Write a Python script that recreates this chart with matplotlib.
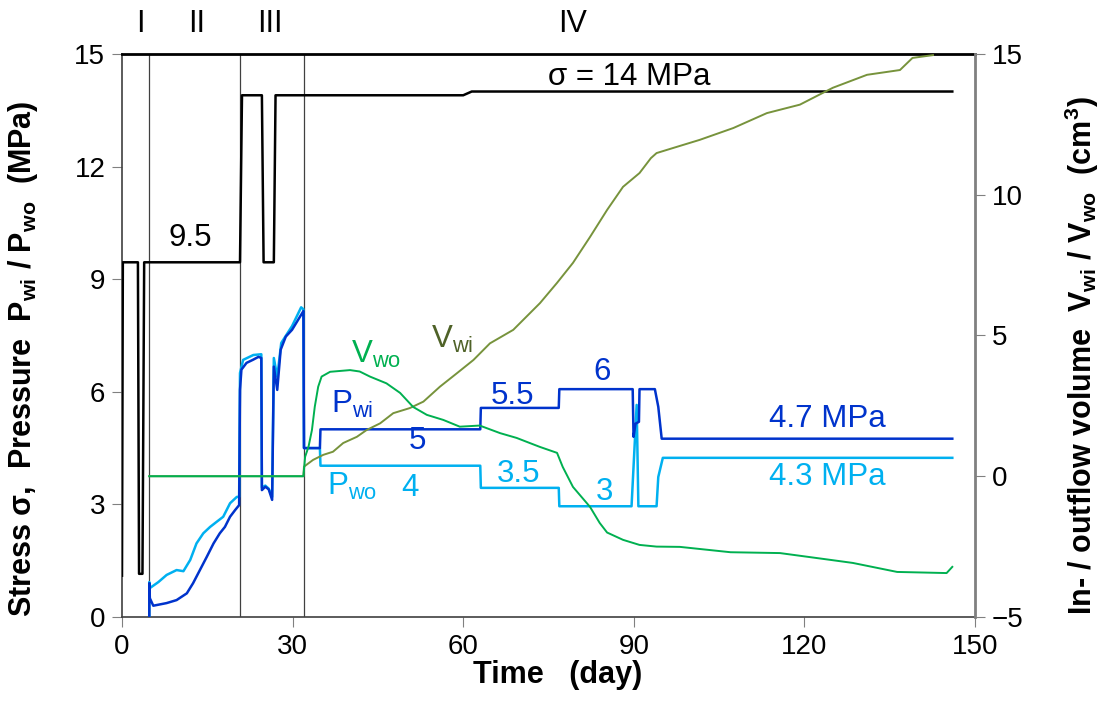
import matplotlib
matplotlib.use('Agg')
import matplotlib.pyplot as plt
from matplotlib import rcParams

rcParams['font.family'] = 'Liberation Sans'
rcParams['mathtext.default'] = 'regular'

# Data (time in days)
# ====================================================== #
phase_bounds = [4.8, 20.75, 32.0]
phase_names = ['I', 'II', 'III', 'IV']
phase_label_x = [3.2, 13.2, 26.0, 79.3]

# confining stress sigma (MPa)
sig_t = [0, 0.15, 2.8, 3.0, 3.6, 3.9, 20.75, 21.1, 24.6, 24.9, 26.7, 27.0, 60.0, 61.5, 146.0]
sig_v = [1.1, 9.45, 9.45, 1.15, 1.15, 9.45, 9.45, 13.9, 13.9, 9.45, 9.45, 13.9, 13.9, 14.0, 14.0]

# inflow pressure P_wi (MPa)
pwi_t = [4.8, 4.8, 4.9, 5.5, 7.85, 9.6, 11.4, 12.5, 13.7, 14.9, 16.1, 17.2, 18.1, 19.0, 19.9, 20.6,
         20.75, 21.0, 21.9, 23.0, 24.0, 24.5, 24.6, 25.2, 25.8, 26.4, 26.7, 27.3, 27.9, 28.8, 29.9,
         30.7, 31.5, 31.9, 32.0, 34.8, 34.9, 63.0, 63.1, 76.8, 76.9, 89.8, 89.95, 90.3, 90.9, 91.0,
         93.7, 94.3, 94.9, 146.0]
pwi_v = [0.0, 0.9, 0.5, 0.3, 0.37, 0.45, 0.63, 0.9, 1.25, 1.6, 1.96, 2.23, 2.4, 2.67, 2.85, 2.98,
         6.05, 6.59, 6.77, 6.85, 6.93, 6.9, 3.38, 3.47, 3.4, 3.12, 6.67, 6.05, 7.12, 7.47, 7.65,
         7.85, 8.05, 8.15, 4.5, 4.5, 5.0, 5.0, 5.57, 5.57, 6.07, 6.07, 4.8, 5.15, 5.2, 6.07,
         6.07, 5.6, 4.75, 4.75]

# outflow pressure P_wo (MPa)
pwo_t = [4.8, 4.8, 4.9, 6.4, 7.85, 9.6, 10.8, 12.0, 13.1, 14.3, 15.5, 16.6, 17.8, 19.0, 20.2, 20.6,
         20.75, 21.3, 23.1, 24.5, 24.6, 25.2, 25.8, 26.4, 26.7, 27.3, 28.0, 29.9, 31.5, 31.9, 32.0,
         34.8, 34.9, 63.0, 63.1, 76.8, 76.9, 89.6, 90.5, 90.8, 94.0, 94.3, 95.1, 146.0]
pwo_v = [0.0, 0.93, 0.77, 0.93, 1.12, 1.25, 1.22, 1.52, 1.96, 2.23, 2.4, 2.53, 2.67, 3.03, 3.2, 3.2,
         6.5, 6.85, 6.98, 7.0, 3.45, 3.5, 3.42, 3.2, 6.9, 6.4, 7.3, 7.75, 8.25, 8.2, 4.5,
         4.5, 4.03, 4.03, 3.44, 3.44, 2.95, 2.95, 5.65, 2.95, 2.95, 3.73, 4.24, 4.24]

# outflow volume V_wo (cm3)
vwo_t = [4.8, 31.9, 32.2, 32.8, 33.4, 33.9, 34.5, 35.1, 36.6, 40.1, 41.8, 43.6, 46.5, 48.9, 51.2,
         53.6, 56.5, 59.4, 62.9, 66.5, 69.4, 71.7, 73.5, 76.5, 77.5, 79.3, 82.3, 84.0, 85.3, 88.1,
         91.0, 94.0, 98.1, 107.0, 115.7, 124.5, 128.5, 136.3, 145.0, 146.0]
vwo_v = [0.0, 0.0, 0.69, 1.05, 1.64, 2.47, 3.18, 3.54, 3.71, 3.77, 3.72, 3.54, 3.3, 2.96, 2.46,
         2.18, 2.0, 1.76, 1.8, 1.53, 1.36, 1.18, 1.04, 0.83, 0.33, -0.38, -1.09, -1.66, -2.0, -2.26,
         -2.44, -2.5, -2.51, -2.7, -2.73, -2.97, -3.08, -3.4, -3.44, -3.22]

# inflow volume V_wi (cm3)
vwi_t = [4.8, 31.9, 32.0, 33.6, 35.4, 37.1, 38.9, 41.3, 43.0, 45.4, 47.7, 50.6, 53.0, 55.9, 58.9,
         61.8, 64.7, 68.8, 73.5, 76.5, 79.3, 82.3, 85.3, 88.1, 91.0, 93.0, 94.0, 96.9, 101.6, 107.5,
         113.4, 119.2, 125.0, 131.0, 136.8, 139.0, 142.6]
vwi_v = [0.0, 0.0, 0.34, 0.58, 0.76, 0.87, 1.18, 1.4, 1.64, 1.88, 2.24, 2.42, 2.65, 3.18, 3.66,
         4.13, 4.72, 5.2, 6.15, 6.87, 7.58, 8.5, 9.46, 10.28, 10.77, 11.3, 11.48, 11.66, 11.95, 12.37,
         12.9, 13.2, 13.8, 14.26, 14.43, 14.86, 14.96]
# ====================================================== #

c_pwi = '#0033CC'
c_pwo = '#00B0F0'
c_vwo = '#00B050'
c_vwi = '#77933C'

fig = plt.figure(figsize=(11.07, 7.15), dpi=100)
ax = fig.add_axes([0.1102, 0.1371, 0.7706, 0.7874])

for b in phase_bounds:
    ax.axvline(b, color='#404040', lw=0.9, zorder=1)

ax.plot(sig_t, sig_v, color='black', lw=1.8, zorder=3)
ax.plot(pwo_t, pwo_v, color=c_pwo, lw=1.8, zorder=3)
ax.plot(pwi_t, pwi_v, color=c_pwi, lw=1.8, zorder=4)

ax.set_xlim(0, 150)
ax.set_ylim(0, 15)
ax.set_xticks(range(0, 151, 30))
ax.set_yticks(range(0, 16, 3))
ax.tick_params(direction='out', length=7, color='#808080', labelsize=20, pad=5)

for s in ['left', 'bottom']:
    ax.spines[s].set_color('#404040')
    ax.spines[s].set_linewidth(1.2)
ax.spines['top'].set_color('black')
ax.spines['top'].set_linewidth(2)
ax.spines['right'].set_visible(False)

ax.set_xlabel('Time   (day)', fontsize=22, fontweight='bold', va='center')
ax.xaxis.set_label_coords(0.511, -0.103)
ax.set_ylabel('Stress σ,  Pressure  P$_{wi}$ / P$_{wo}$  (MPa)', fontsize=22, fontweight='bold',
              va='center')
ax.yaxis.set_label_coords(-0.116, 0.458)

ax2 = ax.twinx()
ax2.plot(vwi_t, vwi_v, color=c_vwi, lw=1.4)
ax2.plot(vwo_t, vwo_v, color=c_vwo, lw=1.4)
ax2.set_ylim(-5, 15)
ax2.set_yticks(range(-5, 16, 5))
ax2.tick_params(direction='out', length=7, color='#808080', labelsize=20, pad=5)
for s in ['left', 'bottom', 'top']:
    ax2.spines[s].set_visible(False)
ax2.spines['right'].set_color('#808080')
ax2.spines['right'].set_linewidth(2)
ax2.set_ylabel('In- / outflow volume  V$_{wi}$ / V$_{wo}$  (cm$^{3}$)', fontsize=22,
               fontweight='bold', va='center')
ax2.yaxis.set_label_coords(1.125, 0.465)

# phase labels above the frame
for name, xp in zip(phase_names, phase_label_x):
    ax.text(xp, 1.053, name, transform=ax.get_xaxis_transform(), ha='center', va='center',
            fontsize=22)

fs = 22.5
ax.text(89.2, 14.4, 'σ = 14 MPa', ha='center', va='center', fontsize=fs)
ax.text(12.0, 10.1, '9.5', ha='center', va='center', fontsize=fs)
ax.text(44.7, 6.99, 'V$_{wo}$', ha='center', va='center', fontsize=fs, color=c_vwo)
ax.text(58.0, 7.39, 'V$_{wi}$', ha='center', va='center', fontsize=fs, color='#4F6228')
ax.text(40.5, 5.65, 'P$_{wi}$', ha='center', va='center', fontsize=fs, color=c_pwi)
ax.text(40.5, 3.48, 'P$_{wo}$', ha='center', va='center', fontsize=fs, color=c_pwo)
ax.text(52.0, 4.69, '5', ha='center', va='center', fontsize=fs, color=c_pwi)
ax.text(50.6, 3.44, '4', ha='center', va='center', fontsize=fs, color=c_pwo)
ax.text(68.6, 5.89, '5.5', ha='center', va='center', fontsize=fs, color=c_pwi)
ax.text(69.8, 3.81, '3.5', ha='center', va='center', fontsize=fs, color=c_pwo)
ax.text(84.5, 6.53, '6', ha='center', va='center', fontsize=fs, color=c_pwi)
ax.text(84.8, 3.33, '3', ha='center', va='center', fontsize=fs, color=c_pwo)
ax.text(124.0, 5.27, '4.7 MPa', ha='center', va='center', fontsize=fs, color=c_pwi)
ax.text(124.0, 3.73, '4.3 MPa', ha='center', va='center', fontsize=fs, color=c_pwo)

fig.savefig('out.png', dpi=100)
